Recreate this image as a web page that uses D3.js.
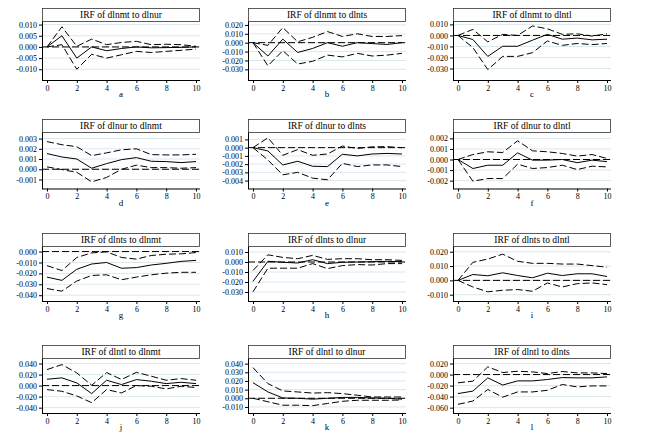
<!DOCTYPE html>
<html>
<head>
<meta charset="utf-8">
<script src="https://cdn.jsdelivr.net/npm/d3@7"></script>
<style>
  body { margin: 0; background: #fff; }
  svg text { font-family: "Liberation Serif", "DejaVu Serif", serif !important; fill: #000; }
</style>
</head>
<body>
<div class="chart"></div>
<script>
var svgWidth = 650;
var svgHeight = 446;

// Data
var steps = [0, 1, 2, 3, 4, 5, 6, 7, 8, 9, 10];
var xTicks = [0, 2, 4, 6, 8, 10];

var titles = [
  "IRF of dlnmt to dlnur", "IRF of dlnmt to dlnts", "IRF of dlnmt to dlntl",
  "IRF of dlnur to dlnmt", "IRF of dlnur to dlnts", "IRF of dlnur to dlntl",
  "IRF of dlnts to dlnmt", "IRF of dlnts to dlnur", "IRF of dlnts to dlntl",
  "IRF of dlntl to dlnmt", "IRF of dlntl to dlnur", "IRF of dlntl to dlnts"
];
var letters = ["a", "b", "c", "d", "e", "f", "g", "h", "i", "j", "k", "l"];

var yTicks = [
  [0.010, 0.005, 0, -0.005, -0.010],
  [0.020, 0.010, 0, -0.010, -0.020, -0.030],
  [0.010, 0, -0.010, -0.020, -0.030],
  [0.003, 0.002, 0.001, 0, -0.001],
  [0.001, 0, -0.001, -0.002, -0.003, -0.004],
  [0.002, 0.001, 0, -0.001, -0.002],
  [0, -0.010, -0.020, -0.030, -0.040],
  [0.010, 0, -0.010, -0.020, -0.030],
  [0.020, 0.010, 0, -0.010],
  [0.040, 0.020, 0, -0.020, -0.040],
  [0.040, 0.030, 0.020, 0.010, 0, -0.010],
  [0.020, 0, -0.020, -0.040, -0.060]
];

var yDomains = [
  [-0.0148, 0.0116], [-0.042, 0.0244], [-0.0404, 0.0131],
  [-0.00188, 0.00364], [-0.00496, 0.0019], [-0.00274, 0.0026],
  [-0.0453, 0.0051], [-0.039, 0.016], [-0.0144, 0.024],
  [-0.0497, 0.050], [-0.017, 0.0465], [-0.0697, 0.030]
];

var irf = [
  [0, 0.005, -0.005, 0, -0.0017, -0.0007, 0, -0.0004, -0.0003, -0.0002, 0],
  [0, -0.015, 0.004, -0.011, -0.0065, 0, -0.004, 0, -0.001, -0.002, 0],
  [0, -0.0037, -0.019, -0.0098, -0.0098, -0.0043, 0.001, -0.0034, -0.0024, -0.004, -0.0034],
  [0.00153, 0.0012, 0.001, 0.0001, 0.00055, 0.00094, 0.00114, 0.00078, 0.00075, 0.00065, 0.00075],
  [0, -0.0004, -0.0021, -0.00165, -0.00226, -0.0023, -0.0008, -0.001, -0.00077, -0.0007, -0.00077],
  [0, -0.00085, -0.00054, -0.00054, 0.00063, -0.00006, -0.00006, 0, -0.0003, -0.00006, -0.0002],
  [-0.0234, -0.0264, -0.0162, -0.0114, -0.010, -0.0153, -0.0147, -0.0123, -0.0108, -0.009, -0.0081],
  [-0.0193, 0.0007, -0.0003, -0.001, 0.0023, -0.0016, -0.0003, 0, 0.0003, 0.0007, 0.0003],
  [0, 0.0041, 0.0032, 0.0053, 0.0034, 0.0018, 0.005, 0.0034, 0.0046, 0.0046, 0.0027],
  [0.0115, 0.014, 0.0048, -0.0145, 0.0097, 0.0018, 0.0109, 0.0079, 0.0036, 0.006, 0.0036],
  [0.018, 0.0073, 0.0004, 0, -0.001, 0, 0.001, 0.001, 0.0004, 0, -0.001],
  [-0.0345, -0.030, -0.006, -0.019, -0.0115, -0.0115, -0.009, -0.0055, -0.006, -0.006, -0.0042]
];

var lower = [
  [0, 0.001, -0.010, -0.0033, -0.005, -0.0035, -0.002, -0.0025, -0.002, -0.0015, -0.001],
  [0, -0.026, -0.009, -0.024, -0.021, -0.014, -0.016, -0.012, -0.015, -0.014, -0.012],
  [0, -0.011, -0.031, -0.019, -0.019, -0.0156, -0.005, -0.009, -0.0073, -0.0083, -0.0073],
  [0.00023, -0.00003, -0.0003, -0.00123, -0.0008, 0, 0.0004, 0.00016, 0.00016, 0.0001, 0.00016],
  [0, -0.0015, -0.0033, -0.003, -0.0037, -0.0039, -0.0019, -0.0023, -0.0021, -0.0021, -0.0023],
  [0, -0.00205, -0.0018, -0.0018, -0.00044, -0.00085, -0.00076, -0.00054, -0.00095, -0.00063, -0.0007],
  [-0.0339, -0.0363, -0.027, -0.0219, -0.0213, -0.0258, -0.0234, -0.0213, -0.0198, -0.019, -0.019],
  [-0.0298, -0.0062, -0.0062, -0.0062, -0.0016, -0.0066, -0.0036, -0.0026, -0.003, -0.0016, -0.0016],
  [0, -0.0046, -0.008, -0.0069, -0.0064, -0.0076, -0.0018, -0.0046, -0.0023, -0.0018, -0.003],
  [-0.0073, -0.0103, -0.0188, -0.031, -0.0073, -0.0133, 0, -0.0012, -0.006, -0.0012, -0.0036],
  [0, -0.004, -0.008, -0.008, -0.0085, -0.006, -0.0035, -0.0023, -0.0023, -0.0023, -0.002],
  [-0.054, -0.048, -0.027, -0.041, -0.0315, -0.0315, -0.0285, -0.018, -0.0224, -0.0206, -0.0206]
];

var upper = [
  [0, 0.009, 0.0003, 0.0035, 0.001, 0.002, 0.0025, 0.001, 0.0012, 0.001, 0.0003],
  [0, -0.003, 0.017, 0.001, 0.006, 0.0125, 0.007, 0.010, 0.007, 0.007, 0.008],
  [0, 0.0055, -0.0058, 0.001, 0, 0.0086, 0.006, 0.001, 0.0015, -0.0006, 0.0015],
  [0.0027, 0.0024, 0.0022, 0.00133, 0.0016, 0.0019, 0.002, 0.00143, 0.0014, 0.0014, 0.00146],
  [0, 0.0012, -0.00093, -0.00024, -0.00093, -0.00077, 0.0002, -0.0001, 0.0001, 0.00012, 0],
  [0, 0.00047, 0.00073, 0.00066, 0.00177, 0.00082, 0.00073, 0.00057, 0.00032, 0.00047, 0.0001],
  [-0.0129, -0.0174, -0.0054, -0.0012, -0.0003, -0.0054, -0.0069, -0.0036, -0.0024, -0.0021, -0.0009],
  [-0.0085, 0.0072, 0.0046, 0.0033, 0.0066, 0.0026, 0.0033, 0.0033, 0.0023, 0.0023, 0.0016],
  [0, 0.0126, 0.0149, 0.0183, 0.0133, 0.0119, 0.0119, 0.0114, 0.0114, 0.0103, 0.0092],
  [0.029, 0.038, 0.023, 0.0006, 0.0236, 0.011, 0.024, 0.017, 0.0097, 0.0127, 0.0097],
  [0.0354, 0.017, 0.0085, 0.0073, 0.006, 0.0065, 0.0054, 0.0035, 0.0015, 0.0015, 0.0015],
  [-0.015, -0.012, 0.014, 0.0036, 0.006, 0.0048, 0.0018, 0.0055, 0.003, 0.003, 0.0018]
];

// Layout of the 4 x 3 grid
var colLeft = [42, 248, 453];
var rowTop = [8, 119, 233, 345];
var rowBottom = [80, 188.5, 301, 413];
var panelWidth = 158;
var titleHeight = 13;
var serif = "'Liberation Serif', 'DejaVu Serif', serif";

var fmt = function(d) { return d3.format(".3f")(d).replace("\u2212", "-"); };

var svg = d3.select(".chart")
  .append("svg")
  .attr("width", svgWidth)
  .attr("height", svgHeight)
  .attr("font-family", serif);

titles.forEach(function(title, i) {
  var col = i % 3;
  var row = Math.floor(i / 3);
  var plotBottom = rowBottom[row] - rowTop[row];

  var panel = svg.append("g")
    .attr("transform", `translate(${colLeft[col]}, ${rowTop[row]})`);

  var xScale = d3.scaleLinear()
    .domain([0, 10])
    .range([5, panelWidth - 4]);

  var yScale = d3.scaleLinear()
    .domain(yDomains[i])
    .range([plotBottom, titleHeight]);

  // grid lines
  panel.selectAll(".grid")
    .data(yTicks[i])
    .enter()
    .append("line")
    .attr("x1", 0)
    .attr("x2", panelWidth)
    .attr("y1", d => yScale(d))
    .attr("y2", d => yScale(d))
    .attr("stroke", "#dbe8ee")
    .attr("stroke-width", 1);

  // title box
  panel.append("rect")
    .attr("x", 0.5)
    .attr("y", 0.5)
    .attr("width", panelWidth - 1)
    .attr("height", titleHeight)
    .attr("fill", "#fff")
    .attr("stroke", "#333")
    .attr("stroke-width", 0.8);

  panel.append("text")
    .attr("x", panelWidth / 2)
    .attr("y", 10)
    .attr("text-anchor", "middle")
    .style("font-family", serif)
    .style("font-size", "9.5px")
    .text(title);

  // zero line
  panel.append("line")
    .attr("x1", 0)
    .attr("x2", panelWidth)
    .attr("y1", yScale(0))
    .attr("y2", yScale(0))
    .attr("stroke", "#000")
    .attr("stroke-width", 1)
    .attr("stroke-dasharray", "7,3");

  var line = d3.line()
    .x((d, j) => xScale(steps[j]))
    .y(d => yScale(d));

  [lower[i], upper[i]].forEach(function(series) {
    panel.append("path")
      .attr("d", line(series))
      .attr("fill", "none")
      .attr("stroke", "#000")
      .attr("stroke-width", 1)
      .attr("stroke-dasharray", "7,3");
  });

  panel.append("path")
    .attr("d", line(irf[i]))
    .attr("fill", "none")
    .attr("stroke", "#000")
    .attr("stroke-width", 1);

  // axes
  var leftAxis = d3.axisLeft(yScale)
    .tickValues(yTicks[i])
    .tickFormat(fmt)
    .tickSizeInner(3)
    .tickSizeOuter(0)
    .tickPadding(2);

  var bottomAxis = d3.axisBottom(xScale)
    .tickValues(xTicks)
    .tickSizeInner(3)
    .tickSizeOuter(0)
    .tickPadding(2);

  panel.append("g")
    .call(leftAxis)
    .attr("font-family", serif);

  var xAxisG = panel.append("g")
    .attr("transform", `translate(0, ${plotBottom})`)
    .call(bottomAxis)
    .attr("font-family", serif);

  xAxisG.select(".domain")
    .attr("d", `M0,0.5H${panelWidth}`)
    .attr("stroke", "#000");

  panel.selectAll(".tick text")
    .style("font-family", serif)
    .style("font-size", "8px");

  panel.append("text")
    .attr("x", panelWidth / 2)
    .attr("y", plotBottom + 17)
    .attr("text-anchor", "middle")
    .style("font-family", serif)
    .style("font-size", "9px")
    .text(letters[i]);
});
</script>
</body>
</html>
